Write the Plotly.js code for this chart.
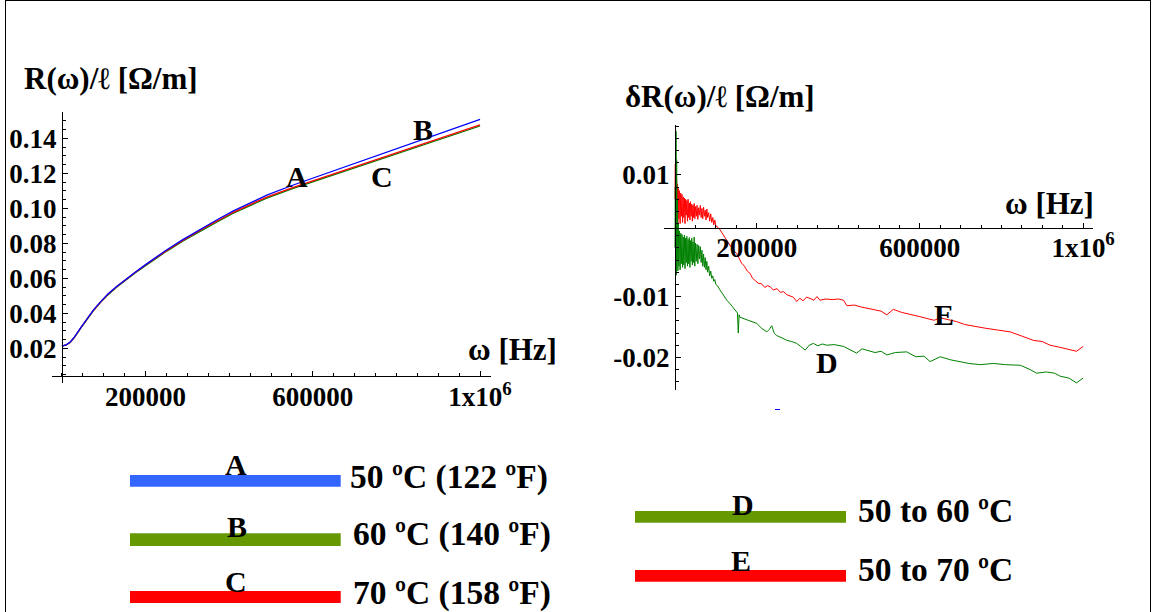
<!DOCTYPE html>
<html>
<head>
<meta charset="utf-8">
<script src="https://cdn.plot.ly/plotly-3.0.1.min.js"></script>
<style>html,body{margin:0;padding:0;background:#fff;}#chart{width:1153px;height:612px;}</style>
</head>
<body>
<div id="chart"></div>
<script>
// ---------- data ----------
// Left panel: R(w)/l [Ohm/m] vs w [Hz]
const omegaL = [0, 10000, 20000, 30000, 45000, 60000, 75000, 92000, 110000, 130000, 150000, 175000, 200000, 225000, 250000, 290000, 330000, 370000, 410000, 450000, 490000, 550000, 610000, 670000, 730000, 790000, 850000, 910000, 970000, 1000000];
const rA = [0.0212, 0.0220, 0.0236, 0.0265, 0.0318, 0.0370, 0.0418, 0.0465, 0.0510, 0.0552, 0.0590, 0.0635, 0.0678, 0.0720, 0.0762, 0.0822, 0.0880, 0.0933, 0.0985, 0.1030, 0.1075, 0.1130, 0.1181, 0.1232, 0.1282, 0.1332, 0.1382, 0.1432, 0.1483, 0.1508];
const rB = [0.0212, 0.0219, 0.0234, 0.0263, 0.0315, 0.0367, 0.0414, 0.0461, 0.0505, 0.0547, 0.0585, 0.0630, 0.0672, 0.0713, 0.0754, 0.0813, 0.0869, 0.0921, 0.0972, 0.1016, 0.1058, 0.1111, 0.1159, 0.1208, 0.1256, 0.1303, 0.1350, 0.1397, 0.1446, 0.1470];
const rC = [0.0212, 0.0219, 0.0235, 0.0264, 0.0316, 0.0368, 0.0416, 0.0463, 0.0508, 0.0550, 0.0588, 0.0633, 0.0676, 0.0717, 0.0758, 0.0817, 0.0874, 0.0926, 0.0977, 0.1021, 0.1064, 0.1117, 0.1165, 0.1214, 0.1262, 0.1309, 0.1356, 0.1403, 0.1452, 0.1476];

// Right panel: dR(w)/l [Ohm/m] vs w [Hz]
const omegaE = [0, 800, 1600, 2400, 3200, 4000, 5000, 6000, 7000, 8000, 9500, 11000, 12500, 14000, 15500, 17000, 18500, 20000, 21500, 23000, 24500, 26000, 27500, 29000, 30500, 32000, 33500, 35000, 36500, 38000, 39500, 41000, 42500, 44000, 45500, 47000, 48500, 50000, 52000, 54000, 56000, 58000, 60000, 62000, 64000, 66000, 68000, 70000, 72000, 74000, 76000, 78000, 80000, 82500, 85000, 87500, 90000, 92500, 95000, 97500, 100000, 105000, 110000,
  118000, 127000, 135000, 143000, 151000, 157000, 163000, 170000, 177000, 184000, 190000, 197000, 204000, 212000, 220000, 227000, 233000, 241000, 250000, 258000, 266000, 274000, 282000, 290000, 298000, 306000, 314000, 322000, 331000, 340000, 348000, 355000, 370000, 385000, 400000, 413000, 421000, 440000, 455000, 470000, 490000, 505000, 519000, 535000, 555000, 570000, 584000, 600000, 617000, 635000, 650000, 665000, 689000, 710000, 738000, 760000, 790000, 821000, 850000, 878000, 900000, 919000, 940000, 960000, 984000, 1000000];
const dE = [0.0060, 0.0118, 0.0035, 0.0100, 0.0018, 0.0092, 0.0030, 0.0085, 0.0015, 0.0078, 0.0028, 0.0074, 0.0020, 0.0070, 0.0032, 0.0068, 0.0022, 0.0064, 0.0030, 0.0062, 0.0020, 0.0060, 0.0034, 0.0058, 0.0024, 0.0060, 0.0030, 0.0054, 0.0026, 0.0056, 0.0032, 0.0052, 0.0024, 0.0050, 0.0030, 0.0053, 0.0028, 0.0048, 0.0032, 0.0050, 0.0027, 0.0046, 0.0034, 0.0050, 0.0030, 0.0045, 0.0028, 0.0047, 0.0032, 0.0042, 0.0026, 0.0044, 0.0030, 0.0038, 0.0024, 0.0036, 0.0022, 0.0030, 0.0018, 0.0026, 0.0016, 0.0014, 0.0010,
  0.0002, -0.0007, -0.0015, -0.0024, -0.0029, -0.0036, -0.0045, -0.0050, -0.0058, -0.0062, -0.0070, -0.0074, -0.0078, -0.0079, -0.0085, -0.0082, -0.0084, -0.0089, -0.0087, -0.0093, -0.0092, -0.0097, -0.0099, -0.0101, -0.0108, -0.0103, -0.0107, -0.0101, -0.0103, -0.0106, -0.0100, -0.0106, -0.0104, -0.0105, -0.0104, -0.0106, -0.0115, -0.0114, -0.0117, -0.0119, -0.0121, -0.0124, -0.0130, -0.0121, -0.0126, -0.0128, -0.0130, -0.0133, -0.0136, -0.0139, -0.0135, -0.0137, -0.0141, -0.0146, -0.0150, -0.0152, -0.0155, -0.0158, -0.0165, -0.0172, -0.0174, -0.0180, -0.0183, -0.0186, -0.0190, -0.0182];

const omegaD = [0, 800, 1600, 2400, 3200, 4000, 5000, 6000, 7000, 8000, 9500, 11000, 12500, 14000, 15500, 17000, 18500, 20000, 21500, 23000, 24500, 26000, 27500, 29000, 30500, 32000, 33500, 35000, 36500, 38000, 39500, 41000, 42500, 44000, 45500, 47000, 48500, 50000, 52000, 54000, 56000, 58000, 60000, 62000, 64000, 66000, 68000, 70000, 72000, 74000, 76000, 78000, 80000, 82500, 85000, 87500, 90000, 92500, 95000, 97500, 100000, 105000, 110000,
  118000, 127000, 135000, 143000, 148000, 153000, 155000, 157000, 159000, 167000, 176000, 188000, 200000, 212000, 225000, 231000, 237000, 243000, 249000, 262000, 274000, 286000, 298000, 308000, 319000, 329000, 339000, 350000, 361000, 372000, 390000, 413000, 430000, 445000, 458000, 470000, 490000, 505000, 519000, 540000, 568000, 590000, 610000, 625000, 650000, 675000, 699000, 720000, 748000, 780000, 810000, 846000, 870000, 886000, 910000, 930000, 944000, 965000, 984000, 1000000];
const dD = [-0.0020, 0.0080, -0.0055, 0.0172, -0.0065, 0.0125, -0.0040, 0.0060, -0.0058, 0.0020, -0.0050, 0.0008, -0.0056, 0.0004, -0.0046, 0.0002, -0.0052, -0.0002, -0.0048, 0.0001, -0.0054, -0.0004, -0.0044, -0.0001, -0.0050, -0.0006, -0.0046, -0.0003, -0.0052, -0.0008, -0.0042, -0.0004, -0.0048, -0.0010, -0.0044, -0.0002, -0.0050, -0.0012, -0.0042, -0.0014, -0.0046, -0.0016, -0.0038, -0.0018, -0.0044, -0.0024, -0.0050, -0.0030, -0.0052, -0.0036, -0.0056, -0.0042, -0.0060, -0.0050, -0.0066, -0.0058, -0.0070, -0.0066, -0.0075, -0.0072, -0.0080, -0.0083, -0.0089,
  -0.0098, -0.0106, -0.0112, -0.0119, -0.0124, -0.0127, -0.0160, -0.0130, -0.0134, -0.0136, -0.0139, -0.0142, -0.0144, -0.0152, -0.0158, -0.0154, -0.0148, -0.0160, -0.0164, -0.0168, -0.0172, -0.0174, -0.0177, -0.0182, -0.0188, -0.0180, -0.0177, -0.0181, -0.0178, -0.0180, -0.0179, -0.0182, -0.0188, -0.0193, -0.0186, -0.0188, -0.0192, -0.0190, -0.0196, -0.0192, -0.0191, -0.0199, -0.0198, -0.0207, -0.0199, -0.0204, -0.0207, -0.0210, -0.0212, -0.0210, -0.0212, -0.0213, -0.0220, -0.0226, -0.0224, -0.0226, -0.0231, -0.0234, -0.0242, -0.0234];

// tick labels
const xTickVals = [200000, 600000, 1000000];
const xTickText = ['200000', '600000', '1x10<sup>6</sup>'];
const yLeftTickVals = [0.02, 0.04, 0.06, 0.08, 0.10, 0.12, 0.14];
const yLeftTickText = ['0.02', '0.04', '0.06', '0.08', '0.10', '0.12', '0.14'];
const yRightTickVals = [0.01, -0.01, -0.02];
const yRightTickText = ['0.01', '-0.01', '-0.02'];

// labels
const curveLabelsLeft = ['A', 'B', 'C'];
const curveLabelsRight = ['D', 'E'];
const legendTexts = ['50 ºC (122 ºF)', '60 ºC (140 ºF)', '70 ºC (158 ºF)', '50 to 60 ºC', '50 to 70 ºC'];

// ---------- layout helpers ----------
const W = 1153, H = 612;
const px = p => p / W;
const py = p => 1 - p / H;
const FAM = 'Liberation Serif, Times New Roman, serif';
const bold = (size) => ({family: FAM, size: size, color: '#000', weight: 'bold'});

const traces = [
  {x: omegaL, y: rB, mode: 'lines', line: {color: '#008000', width: 1.3}, xaxis: 'x', yaxis: 'y'},
  {x: omegaL, y: rC, mode: 'lines', line: {color: '#FF0000', width: 1.3}, xaxis: 'x', yaxis: 'y'},
  {x: omegaL, y: rA, mode: 'lines', line: {color: '#0000FF', width: 1.3}, xaxis: 'x', yaxis: 'y'},
  {x: omegaE, y: dE, mode: 'lines', line: {color: '#FF0000', width: 1}, xaxis: 'x2', yaxis: 'y2'},
  {x: omegaD, y: dD, mode: 'lines', line: {color: '#008000', width: 1}, xaxis: 'x2', yaxis: 'y2'}
];

const axisCommon = {
  showline: true, linecolor: '#000', linewidth: 1, showgrid: false, zeroline: false,
  ticks: 'inside', ticklen: 5, tickcolor: '#000', tickwidth: 1,
  tickfont: bold(27), fixedrange: true
};

const layout = {
  width: W, height: H,
  margin: {l: 0, r: 0, t: 0, b: 0},
  paper_bgcolor: '#fff', plot_bgcolor: 'rgba(0,0,0,0)',
  showlegend: false,
  xaxis: Object.assign({}, axisCommon, {
    domain: [px(51.5), px(490.5)], range: [-25000, 1025000],
    anchor: 'free', position: py(376),
    tickmode: 'array', tickvals: xTickVals, ticktext: xTickText, ticklabelstandoff: -3,
    minor: {tick0: 0, dtick: 50000, ticks: 'inside', ticklen: 3, tickcolor: '#000'}
  }),
  yaxis: Object.assign({}, axisCommon, {
    domain: [py(383.3), py(112)], range: [0, 0.155],
    anchor: 'free', position: px(62),
    tickmode: 'array', tickvals: yLeftTickVals, ticktext: yLeftTickText,
    minor: {tick0: 0, dtick: 0.005, ticks: 'inside', ticklen: 3, tickcolor: '#000'}
  }),
  xaxis2: Object.assign({}, axisCommon, {
    domain: [px(664), px(1093.3)], range: [-27000, 1025000],
    anchor: 'free', position: py(228.3),
    tickmode: 'array', tickvals: xTickVals, ticktext: xTickText, ticklabelstandoff: -5,
    minor: {tick0: 0, dtick: 50000, ticks: 'inside', ticklen: 3, tickcolor: '#000'}
  }),
  yaxis2: Object.assign({}, axisCommon, {
    domain: [py(390.2), py(125.1)], range: [-0.0254, 0.0182],
    anchor: 'free', position: px(675),
    tickmode: 'array', tickvals: yRightTickVals, ticktext: yRightTickText,
    minor: {tick0: 0, dtick: 0.002, ticks: 'inside', ticklen: 3, tickcolor: '#000'}
  }),
  annotations: [],
  shapes: []
};

function ann(text, x, y, size, xanchor) {
  layout.annotations.push({
    text: text, xref: 'paper', yref: 'paper', x: px(x), y: py(y),
    xanchor: xanchor || 'center', yanchor: 'middle', showarrow: false,
    font: bold(size)
  });
}

// axis labels
ann('R(ω)/ℓ [Ω/m]', 21.7, 79, 31, 'left');
ann('δR(ω)/ℓ [Ω/m]', 622.7, 96, 31, 'left');
ann('ω [Hz]', 466, 349, 31, 'left');
ann('ω [Hz]', 1003, 204, 31, 'left');

// curve labels
ann(curveLabelsLeft[0], 297, 176, 30);
ann(curveLabelsLeft[1], 423, 129, 30);
ann(curveLabelsLeft[2], 382, 176, 30);
ann(curveLabelsRight[0], 827, 362, 30);
ann(curveLabelsRight[1], 944, 314, 30);

// legend bars
const bar = (x0, x1, y0, y1, c) => layout.shapes.push({type: 'rect', xref: 'paper', yref: 'paper', x0: px(x0), x1: px(x1), y0: py(y1), y1: py(y0), fillcolor: c, line: {width: 0}});
bar(130, 340.7, 475, 486.7, '#3366FF');
bar(130, 340.7, 533.3, 546, '#669900');
bar(130, 340.7, 591, 603, '#FF0000');
bar(635, 846, 511, 522.7, '#669900');
bar(635, 846, 570, 581.7, '#FF0000');

// legend letters and texts
ann(curveLabelsLeft[0], 236, 464, 30);
ann(curveLabelsLeft[1], 236.7, 526, 30);
ann(curveLabelsLeft[2], 236, 581, 30);
ann(curveLabelsRight[0], 742.5, 504, 30);
ann(curveLabelsRight[1], 741, 560, 30);
ann(legendTexts[0], 348, 477, 33.5, 'left');
ann(legendTexts[1], 351, 534, 33.5, 'left');
ann(legendTexts[2], 351, 592.5, 33.5, 'left');
ann(legendTexts[3], 856, 510, 33.5, 'left');
ann(legendTexts[4], 856, 569, 33.5, 'left');

// frame and stray mark
layout.shapes.push({type: 'line', xref: 'paper', yref: 'paper', x0: px(5.5), x1: px(5.5), y0: 0, y1: 1, line: {color: '#000', width: 1}});
layout.shapes.push({type: 'line', xref: 'paper', yref: 'paper', x0: px(5.5), x1: px(1150.5), y0: py(0.5), y1: py(0.5), line: {color: '#000', width: 1}});
layout.shapes.push({type: 'line', xref: 'paper', yref: 'paper', x0: px(1150.5), x1: px(1150.5), y0: 0, y1: 1, line: {color: '#000', width: 1}});
layout.shapes.push({type: 'line', xref: 'paper', yref: 'paper', x0: px(775), x1: px(780), y0: py(409.5), y1: py(409.5), line: {color: '#0000FF', width: 1}});

Plotly.newPlot('chart', traces, layout, {staticPlot: true, displayModeBar: false});
</script>
</body>
</html>
